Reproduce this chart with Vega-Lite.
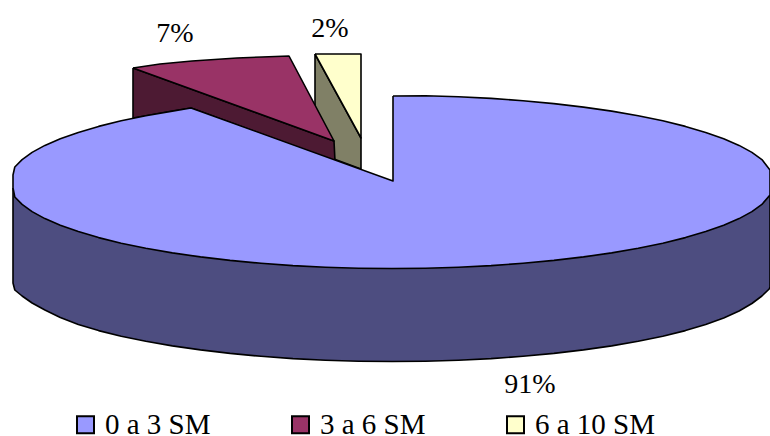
{
  "$schema": "https://vega.github.io/schema/vega-lite/v6.json",
  "width": 770,
  "height": 436,
  "padding": 0,
  "autosize": {"type": "none"},
  "background": "white",
  "view": {"stroke": null},
  "datasets": {
    "body": [
      {"n":1,"x":13,"y":188},{"n":2,"x":13,"y":283},{"n":3,"x":14.8,"y":290},{"n":4,"x":22.1,"y":296},{"n":5,"x":32.1,"y":303},{"n":6,"x":44.9,"y":310},{"n":7,"x":60.3,"y":317.5},{"n":8,"x":78.3,"y":324.6},{"n":9,"x":98.6,"y":330.6},{"n":10,"x":121.2,"y":336.2},{"n":11,"x":145.8,"y":341.3},{"n":12,"x":172.3,"y":345.9},{"n":13,"x":200.5,"y":349.9},{"n":14,"x":230.1,"y":353.4},{"n":15,"x":261,"y":356.3},{"n":16,"x":292.9,"y":358.6},{"n":17,"x":325.5,"y":360.2},{"n":18,"x":358.6,"y":361.2},{"n":19,"x":392,"y":361.5},{"n":20,"x":425.4,"y":361.2},{"n":21,"x":458.5,"y":360.2},{"n":22,"x":491.1,"y":358.6},{"n":23,"x":523,"y":356.3},{"n":24,"x":553.9,"y":353.4},{"n":25,"x":583.5,"y":349.9},{"n":26,"x":611.7,"y":345.9},{"n":27,"x":638.2,"y":341.3},{"n":28,"x":662.8,"y":336.2},{"n":29,"x":685.4,"y":330.6},{"n":30,"x":705.7,"y":324.6},{"n":31,"x":723.7,"y":318},{"n":32,"x":739.1,"y":311},{"n":33,"x":751.9,"y":303.5},{"n":34,"x":761.9,"y":296},{"n":35,"x":769.2,"y":289},{"n":36,"x":770,"y":287},{"n":37,"x":770,"y":195},{"n":38,"x":13,"y":188}
    ],
    "yellowWall": [
      {"n":1,"x":315,"y":54},{"n":2,"x":361,"y":138},{"n":3,"x":361,"y":169},{"n":4,"x":315,"y":152},{"n":5,"x":315,"y":54}
    ],
    "yellowTop": [
      {"n":1,"x":315,"y":54},{"n":2,"x":361,"y":54},{"n":3,"x":361,"y":138},{"n":4,"x":315,"y":54}
    ],
    "plumWall": [
      {"n":1,"x":133,"y":68},{"n":2,"x":334,"y":141},{"n":3,"x":335,"y":161},{"n":4,"x":191,"y":108},{"n":5,"x":133,"y":118},{"n":6,"x":133,"y":68}
    ],
    "plumTop": [
      {"n":1,"x":133,"y":68},{"n":2,"x":160,"y":64},{"n":3,"x":192,"y":61},{"n":4,"x":237,"y":58},{"n":5,"x":262,"y":57},{"n":6,"x":289,"y":56},{"n":7,"x":334,"y":141},{"n":8,"x":133,"y":68}
    ],
    "blueTop": [
      {"n":1,"x":393,"y":96},{"n":2,"x":425.4,"y":95.8},{"n":3,"x":458.5,"y":96.8},{"n":4,"x":491.1,"y":98.4},{"n":5,"x":523,"y":100.7},{"n":6,"x":553.9,"y":103.6},{"n":7,"x":583.5,"y":107.1},{"n":8,"x":611.7,"y":111.1},{"n":9,"x":638.2,"y":115.7},{"n":10,"x":662.8,"y":120.8},{"n":11,"x":685.4,"y":126.4},{"n":12,"x":705.7,"y":132.4},{"n":13,"x":723.7,"y":138.8},{"n":14,"x":739.1,"y":145.4},{"n":15,"x":751.9,"y":152.4},{"n":16,"x":761.9,"y":159.6},{"n":17,"x":770,"y":170},{"n":18,"x":770,"y":195},{"n":19,"x":761.9,"y":204.4},{"n":20,"x":751.9,"y":211.6},{"n":21,"x":739.1,"y":218.6},{"n":22,"x":723.7,"y":225.2},{"n":23,"x":705.7,"y":231.6},{"n":24,"x":685.4,"y":237.6},{"n":25,"x":662.8,"y":243.2},{"n":26,"x":638.2,"y":248.3},{"n":27,"x":611.7,"y":252.9},{"n":28,"x":583.5,"y":256.9},{"n":29,"x":553.9,"y":260.4},{"n":30,"x":523,"y":263.3},{"n":31,"x":491.1,"y":265.6},{"n":32,"x":458.5,"y":267.2},{"n":33,"x":425.4,"y":268.2},{"n":34,"x":392,"y":268.5},{"n":35,"x":358.6,"y":268.2},{"n":36,"x":325.5,"y":267.2},{"n":37,"x":292.9,"y":265.6},{"n":38,"x":261,"y":263.3},{"n":39,"x":230.1,"y":260.4},{"n":40,"x":200.5,"y":256.9},{"n":41,"x":172.3,"y":252.9},{"n":42,"x":145.8,"y":248.3},{"n":43,"x":121.2,"y":243.2},{"n":44,"x":98.6,"y":237.6},{"n":45,"x":78.3,"y":231.6},{"n":46,"x":60.3,"y":225.2},{"n":47,"x":44.9,"y":218.6},{"n":48,"x":32.1,"y":211.6},{"n":49,"x":22.1,"y":204.4},{"n":50,"x":14.8,"y":197},{"n":51,"x":13,"y":188},{"n":52,"x":13,"y":175},{"n":53,"x":14.8,"y":167},{"n":54,"x":22.1,"y":159.6},{"n":55,"x":32.1,"y":152.4},{"n":56,"x":44.9,"y":145.4},{"n":57,"x":60.3,"y":138.8},{"n":58,"x":78.3,"y":132.4},{"n":59,"x":98.6,"y":126.4},{"n":60,"x":121.2,"y":120.8},{"n":61,"x":145.8,"y":115.7},{"n":62,"x":172.3,"y":111.1},{"n":63,"x":191,"y":108},{"n":64,"x":393,"y":181},{"n":65,"x":393,"y":96}
    ],
    "shares": [
      {"salary":"0 a 3 SM","label":"91%","x":530,"y":385},
      {"salary":"3 a 6 SM","label":"7%","x":175,"y":34},
      {"salary":"6 a 10 SM","label":"2%","x":330,"y":29}
    ]
  },
  "config": {"font": "Liberation Serif"},
  "encoding": {
    "x": {"type": "quantitative", "scale": {"domain": [0, 770], "nice": false, "zero": false}, "axis": null},
    "y": {"type": "quantitative", "scale": {"domain": [436, 0], "nice": false, "zero": false}, "axis": null}
  },
  "layer": [
    {
      "data": {"name": "body"},
      "mark": {"type": "line", "fill": "#4d4d80", "stroke": "black", "strokeWidth": 1.6, "strokeJoin": "round"},
      "encoding": {"x": {"field": "x"}, "y": {"field": "y"}, "order": {"field": "n", "type": "quantitative"}}
    },
    {
      "data": {"name": "yellowWall"},
      "mark": {"type": "line", "fill": "#808066", "stroke": "black", "strokeWidth": 1.6, "strokeJoin": "round"},
      "encoding": {"x": {"field": "x"}, "y": {"field": "y"}, "order": {"field": "n", "type": "quantitative"}}
    },
    {
      "data": {"name": "yellowTop"},
      "mark": {"type": "line", "fill": "#ffffcc", "stroke": "black", "strokeWidth": 1.6, "strokeJoin": "round"},
      "encoding": {"x": {"field": "x"}, "y": {"field": "y"}, "order": {"field": "n", "type": "quantitative"}}
    },
    {
      "data": {"name": "plumWall"},
      "mark": {"type": "line", "fill": "#4d1a33", "stroke": "black", "strokeWidth": 1.6, "strokeJoin": "round"},
      "encoding": {"x": {"field": "x"}, "y": {"field": "y"}, "order": {"field": "n", "type": "quantitative"}}
    },
    {
      "data": {"name": "plumTop"},
      "mark": {"type": "line", "fill": "#993366", "stroke": "black", "strokeWidth": 1.6, "strokeJoin": "round"},
      "encoding": {"x": {"field": "x"}, "y": {"field": "y"}, "order": {"field": "n", "type": "quantitative"}}
    },
    {
      "data": {"name": "blueTop"},
      "mark": {"type": "line", "fill": "#9999ff", "stroke": "black", "strokeWidth": 1.6, "strokeJoin": "round"},
      "encoding": {"x": {"field": "x"}, "y": {"field": "y"}, "order": {"field": "n", "type": "quantitative"}}
    },
    {
      "data": {"name": "shares"},
      "mark": {"type": "text", "fontSize": 28, "font": "Liberation Serif", "baseline": "middle", "align": "center", "color": "black"},
      "encoding": {"x": {"field": "x"}, "y": {"field": "y"}, "text": {"field": "label"}}
    },
    {
      "data": {"name": "shares"},
      "mark": {"type": "point", "shape": "square", "filled": true, "opacity": 0, "size": 0},
      "encoding": {
        "x": {"field": "x"},
        "y": {"field": "y"},
        "fill": {
          "field": "salary",
          "type": "nominal",
          "scale": {"domain": ["0 a 3 SM", "3 a 6 SM", "6 a 10 SM"], "range": ["#9999ff", "#993366", "#ffffcc"]},
          "legend": {
            "title": null,
            "orient": "none",
            "legendX": 71,
            "legendY": 410,
            "direction": "horizontal",
            "columns": 3,
            "gridAlign": "all",
            "columnPadding": 60,
            "symbolType": "square",
            "symbolSize": 289,
            "symbolStrokeColor": "black",
            "symbolStrokeWidth": 2,
            "symbolOpacity": 1,
            "labelFont": "Liberation Serif",
            "labelFontSize": 29,
            "labelColor": "black",
            "labelLimit": 300,
            "labelOffset": 5
          }
        }
      }
    }
  ]
}
